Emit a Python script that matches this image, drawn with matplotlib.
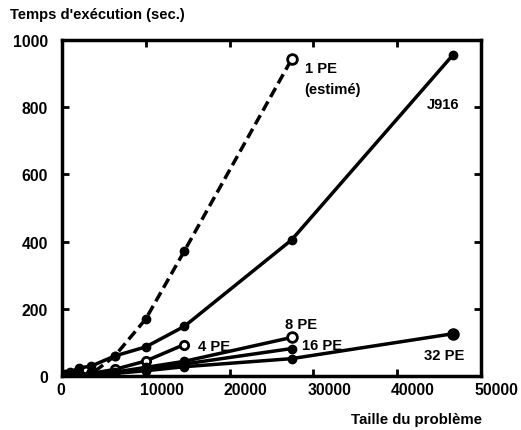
import matplotlib.pyplot as plt
from matplotlib.ticker import FixedLocator
import matplotlib.transforms as mtransforms

plt.rcParams['font.family'] = ['Liberation Sans', 'DejaVu Sans']
plt.rcParams['font.weight'] = 'bold'

# problem sizes / execution times
pe1_x = [300, 1500, 3500, 6300, 10000, 14600, 27400]
pe1_y = [2, 4, 6, 60, 170, 372, 942]

j916_x = [300, 1000, 2000, 3500, 6300, 10000, 14600, 27400, 46650]
j916_y = [6, 12, 24, 30, 60, 87, 148, 405, 955]

pe4_x = [300, 2000, 3500, 6300, 10000, 14600]
pe4_y = [2, 5, 8, 20, 45, 94]

pe8_x = [300, 2000, 3500, 6300, 10000, 14600, 27400]
pe8_y = [1, 3, 5, 12, 26, 44, 115]

pe16_x = [300, 2000, 3500, 6300, 10000, 14600, 27400]
pe16_y = [1, 2, 4, 10, 20, 36, 82]

pe32_x = [300, 2000, 3500, 6300, 10000, 14600, 27400, 46650]
pe32_y = [1, 2, 3, 8, 16, 28, 52, 126]

xticks = [0, 10000, 20000, 30000, 40000, 50000]
yticks = [0, 200, 400, 600, 800, 1000]

fig = plt.figure(figsize=(5.21, 4.31), dpi=100)
ax = fig.add_axes([0.119, 0.125, 0.804, 0.78])

lw = 2.5
ms = 6
ax.plot(pe1_x, pe1_y, color='black', lw=lw, ls=(0, (3, 1.5)), marker='o', ms=ms,
        mfc='black', mec='black')
ax.plot(pe1_x[-1:], pe1_y[-1:], ls='none', marker='o', ms=ms + 1, mfc='white',
        mec='black', mew=2)
ax.plot(j916_x, j916_y, color='black', lw=lw, marker='o', ms=ms, mfc='black')
ax.plot(pe4_x, pe4_y, color='black', lw=lw, marker='o', ms=ms, mfc='white', mew=2)
ax.plot(pe8_x, pe8_y, color='black', lw=lw, marker='o', ms=ms, mfc='black')
ax.plot(pe8_x[-1:], pe8_y[-1:], ls='none', marker='o', ms=ms + 1, mfc='white',
        mec='black', mew=2)
ax.plot(pe16_x, pe16_y, color='black', lw=lw, marker='o', ms=ms, mfc='black')
ax.plot(pe32_x, pe32_y, color='black', lw=lw, marker='o', ms=ms, mfc='black')
ax.plot(pe32_x[-1:], pe32_y[-1:], ls='none', marker='o', ms=ms + 2, mfc='black',
        mec='black')

ax.set_xlim(0, 50000)
ax.set_ylim(0, 1000)
ax.xaxis.set_major_locator(FixedLocator(xticks))
ax.yaxis.set_major_locator(FixedLocator(yticks))
ax.set_xticklabels([str(t) for t in xticks])
ax.set_yticklabels([str(t) for t in yticks])
ax.tick_params(direction='in', length=5, width=2, top=True, right=True,
               labelsize=11.3)
ax.tick_params(axis='x', pad=4)
ax.tick_params(axis='y', pad=10)
for lab in ax.get_xticklabels():
    lab.set_horizontalalignment('left')
    lab.set_transform(lab.get_transform() +
                      mtransforms.ScaledTranslation(-6 / 100, 0, fig.dpi_scale_trans))
for s in ax.spines.values():
    s.set_linewidth(2.5)

ax.text(29000, 918, '1 PE', fontsize=10.6, va='center', ha='left')
ax.text(28900, 855, '(estimé)', fontsize=10.6, va='center', ha='left')
ax.text(43600, 808, 'J916', fontsize=10.6, va='center', ha='left')
ax.text(16200, 90, '4 PE', fontsize=10.6, va='center', ha='left')
ax.text(26600, 156, '8 PE', fontsize=10.6, va='center', ha='left')
ax.text(28700, 92, '16 PE', fontsize=10.6, va='center', ha='left')
ax.text(43200, 64, '32 PE', fontsize=10.6, va='center', ha='left')

fig.text(0.02, 0.965, "Temps d'exécution (sec.)", fontsize=10.6, va='center', ha='left')
fig.text(0.925, 0.025, 'Taille du problème', fontsize=10.8, va='center', ha='right')

fig.savefig('out.png', dpi=100)
